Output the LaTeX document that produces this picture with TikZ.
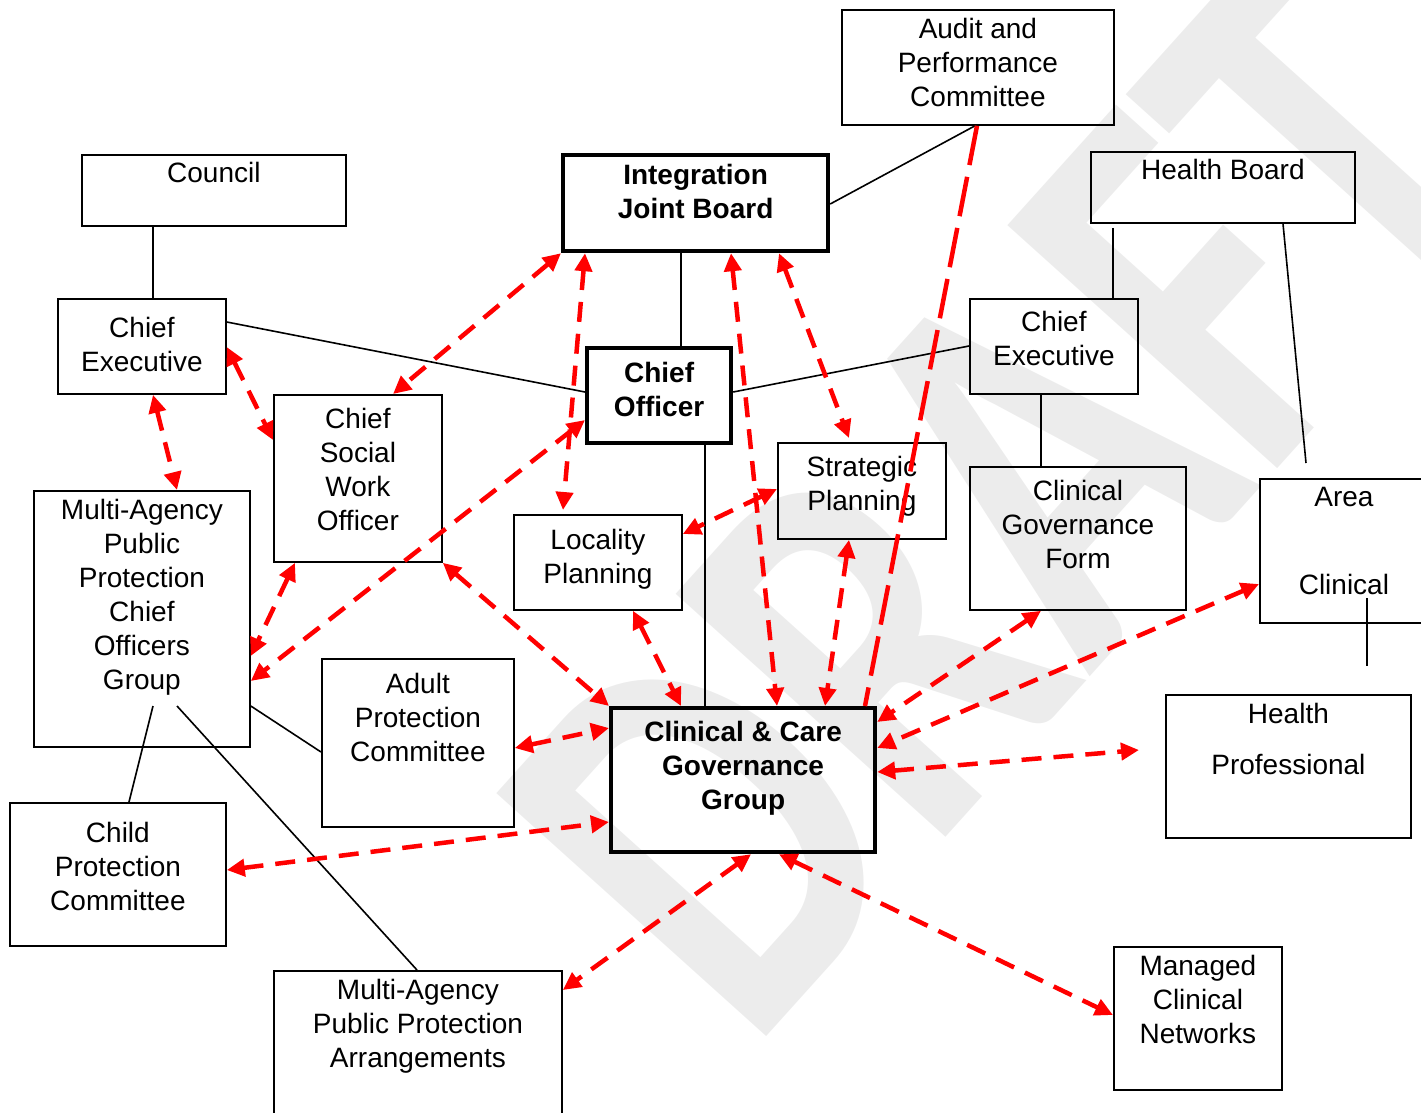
\documentclass[tikz,border=0pt]{standalone}
\usepackage{fontspec}
\setmainfont{Liberation Sans}
\newfontfamily\markfont{Carlito}
\usetikzlibrary{arrows.meta}
\newcommand{\BoxText}[4]{\parbox[t][#2][t]{#1}{\centering\vspace*{#3}#4}}
\tikzset{
  panel/.style={draw, line width=1.8pt, anchor=north west, inner sep=0pt, font=\fontsize{28}{34}\selectfont},
  heavy/.style={panel, line width=4.2pt, font=\fontsize{28}{34}\selectfont\bfseries},
  tie/.style={line width=1.6pt},
  link/.style={red, line width=4.5pt, dash pattern=on 20pt off 12pt, {Triangle[length=18pt,width=17pt]}-{Triangle[length=18pt,width=17pt]}},
  plainlink/.style={red, line width=4.5pt, dash pattern=on 40pt off 12pt}
}
\begin{document}
\begin{tikzpicture}[x=1pt, y=-1pt]
    \useasboundingbox (0,0) rectangle (1421,1112);
    \clip (0,0) rectangle (1421,1112);
    \node (draftmark) [anchor=base west, rotate=48, xscale=0.76, inner sep=0pt, text=gray!15, font=\markfont\bfseries\fontsize{560}{560}\selectfont] at (750,1055) {DRAFT};

    \node (audit) [panel] at (841,9) {\BoxText{272pt}{115pt}{8.5pt}{Audit and\\Performance\\Committee}};
    \node (council) [panel] at (81,154) {\BoxText{264pt}{71pt}{7.5pt}{Council}};
    \node (ijb) [heavy] at (561,153) {\BoxText{265pt}{96pt}{9.5pt}{Integration\\Joint Board}};
    \node (hb) [panel] at (1090,151) {\BoxText{264pt}{71pt}{7.5pt}{Health Board}};
    \node (ceL) [panel] at (57,298) {\BoxText{168pt}{95pt}{18.5pt}{Chief\\Executive}};
    \node (co) [heavy] at (585,346) {\BoxText{144pt}{95pt}{14.5pt}{Chief\\Officer}};
    \node (ceR) [panel] at (969,298) {\BoxText{168pt}{95pt}{12.5pt}{Chief\\Executive}};
    \node (cswo) [panel] at (273,394) {\BoxText{168pt}{167pt}{13.5pt}{Chief\\Social\\Work\hspace*{16pt}\\Officer}};
    \node (sp) [panel] at (777,442) {\BoxText{168pt}{96pt}{13.5pt}{Strategic\\Planning}};
    \node (lp) [panel] at (513,514) {\BoxText{168pt}{95pt}{14.5pt}{Locality\\Planning}};
    \node (cgf) [panel] at (969,466) {\BoxText{216pt}{143pt}{13.5pt}{Clinical\\Governance\\Form}};
    \node (area) [panel] at (1259,478) {\BoxText{168pt}{144pt}{8.5pt}{Area\\[54pt]Clinical}};
    \node (mappcog) [panel] at (33,490) {\BoxText{216pt}{256pt}{8.5pt}{Multi-Agency\\Public\\Protection\\Chief\\Officers\\Group}};
    \node (apc) [panel] at (321,658) {\BoxText{192pt}{168pt}{14.5pt}{Adult\\Protection\\Committee}};
    \node (ccgg) [heavy] at (609,706) {\BoxText{264pt}{144pt}{13.5pt}{Clinical \& Care\\Governance\\Group}};
    \node (hp) [panel] at (1165,694) {\BoxText{245pt}{143pt}{8.5pt}{Health\\[17pt]Professional}};
    \node (cpc) [panel] at (9,802) {\BoxText{216pt}{143pt}{19.5pt}{Child\\Protection\\Committee}};
    \node (mappa) [panel] at (273,970) {\BoxText{288pt}{144pt}{8.5pt}{Multi-Agency\\Public Protection\\Arrangements}};
    \node (mcn) [panel] at (1113,946) {\BoxText{168pt}{143pt}{8.5pt}{Managed\\Clinical\\Networks}};

    \draw[tie] ([xshift=72pt]council.south west) -- ([xshift=96pt]ceL.north west);
    \draw[tie] ([yshift=-24pt]ceL.north east) -- ([yshift=-46pt]co.north west);
    \draw[tie] ([xshift=120pt]ijb.south west) -- ([xshift=96pt]co.north west);
    \draw[tie] ([yshift=-51pt]ijb.north east) -- ([xshift=134pt]audit.south west);
    \draw[tie] ([yshift=-46pt]co.north east) -- ([yshift=-48pt]ceR.north west);
    \draw[tie] ([xshift=23pt,yshift=-4pt]hb.south west) -- ([xshift=144pt]ceR.north west);
    \draw[tie] ([xshift=193pt]hb.south west) -- ([xshift=47pt,yshift=15pt]area.north west);
    \draw[tie] ([xshift=72pt]ceR.south west) -- ([xshift=72pt]cgf.north west);
    \draw[tie] ([xshift=120pt]co.south west) -- ([xshift=96pt]ccgg.north west);
    \draw[tie] ([xshift=108pt,yshift=-120pt]area.north west) -- ([xshift=202pt,yshift=28pt]hp.north west);
    \draw[tie] ([xshift=120pt,yshift=-216pt]mappcog.north west) -- ([xshift=120pt]cpc.north west);
    \draw[tie] ([xshift=144pt,yshift=-216pt]mappcog.north west) -- ([xshift=144pt]mappa.north west);
    \draw[tie] ([yshift=-216pt]mappcog.north east) -- ([yshift=-94pt]apc.north west);

    \draw[link] (ijb.south west) -- ([xshift=120pt]cswo.north west);
    \draw[link] ([xshift=24pt]ijb.south west) -- ([xshift=50pt,yshift=4pt]lp.north west);
    \draw[link] ([xshift=170pt]ijb.south west) -- ([xshift=168pt]ccgg.north west);
    \draw[link] ([xshift=218pt]ijb.south west) -- ([xshift=72pt,yshift=4pt]sp.north west);
    \draw[plainlink] ([xshift=136pt]audit.south west) -- ([xshift=256pt]ccgg.north west);
    \draw[link] ([xshift=96pt]ceL.south west) -- ([xshift=144pt]mappcog.north west);
    \draw[link] ([yshift=-49pt]ceL.north east) -- ([yshift=-46pt]cswo.north west);
    \draw[link] ([xshift=22pt]cswo.south west) -- ([yshift=-166pt]mappcog.north east);
    \draw[link] ([yshift=-74pt]co.north west) -- ([yshift=-191pt]mappcog.north east);
    \draw[link] (cswo.south east) -- (ccgg.north west);
    \draw[link] ([yshift=-47pt]sp.north west) -- ([yshift=-20pt]lp.north east);
    \draw[link] ([xshift=120pt]lp.south west) -- ([xshift=72pt]ccgg.north west);
    \draw[link] ([xshift=72pt]sp.south west) -- ([xshift=216pt]ccgg.north west);
    \draw[link] ([xshift=72pt]cgf.south west) -- ([yshift=-16pt]ccgg.north east);
    \draw[link] ([yshift=-106pt]area.north west) -- ([yshift=-42pt]ccgg.north east);
    \draw[link] ([yshift=-66pt]ccgg.north east) -- ([xshift=-26pt,yshift=-56pt]hp.north west);
    \draw[link] ([yshift=-90pt]apc.north east) -- ([yshift=-22pt]ccgg.north west);
    \draw[link] ([yshift=-68pt]cpc.north east) -- ([yshift=-116pt]ccgg.north west);
    \draw[link] ([xshift=142pt]ccgg.south west) -- ([yshift=-20pt]mappa.north east);
    \draw[link] ([xshift=170pt]ccgg.south west) -- ([yshift=-69pt]mcn.north west);
\end{tikzpicture}
\end{document}
